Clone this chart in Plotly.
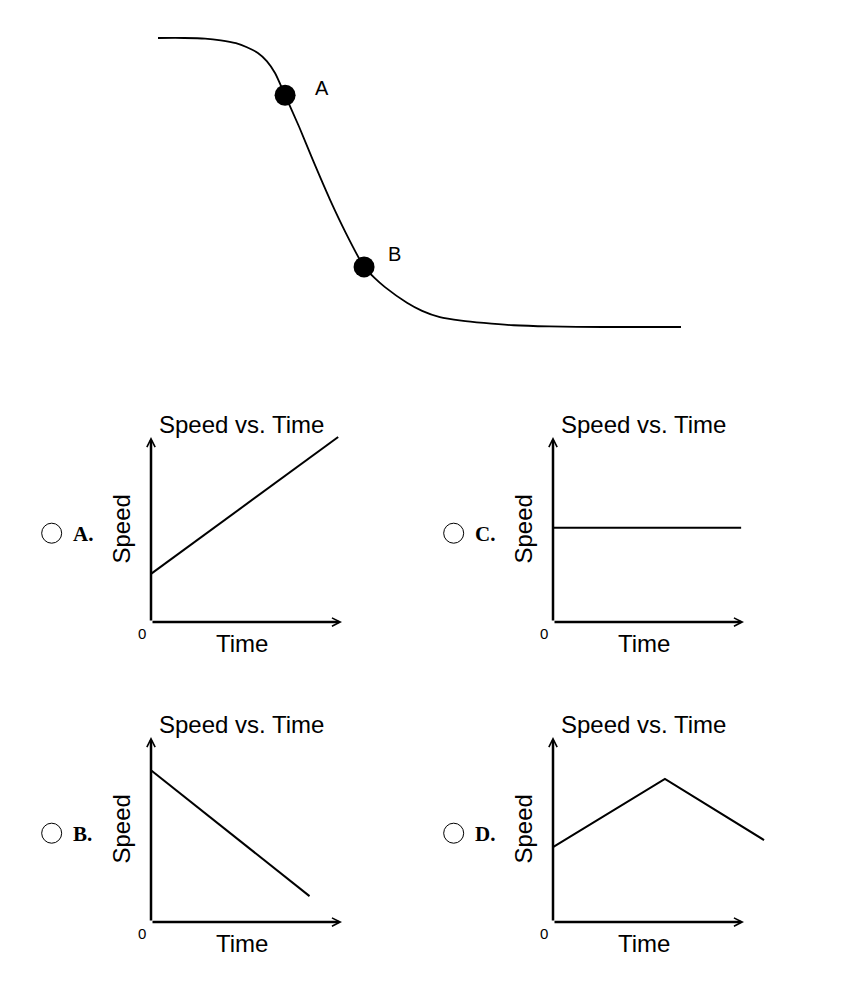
import plotly.graph_objects as go

W, H = 857, 996
FONT = "Liberation Sans"
SERIF = "Liberation Serif"

# ---- Track profile (horizontal distance, height) ----
track_x = [0.0, 0.5, 0.9, 1.2, 1.49, 1.7, 1.91, 2.08, 2.24, 2.43, 2.70, 2.96,
           3.29, 3.59, 3.94, 4.14, 4.34, 4.76, 5.05, 5.39, 5.8, 6.23, 6.8,
           7.48, 8.5, 10.0]
track_y = [5.0, 5.0, 4.99, 4.96, 4.91, 4.84, 4.74, 4.6, 4.39, 4.01, 3.46, 2.89,
           2.20, 1.63, 1.04, 0.85, 0.69, 0.42, 0.28, 0.17, 0.11, 0.07, 0.03,
           0.01, 0.0, 0.0]
point_labels = ["A", "B"]
point_x = [2.43, 3.94]
point_y = [4.01, 1.04]

# ---- Answer choices: speed vs. time ----
choice_letters = ["A.", "C.", "B.", "D."]
time_a, speed_a = [0, 9.8], [2.6, 10.0]
time_c, speed_c = [0, 9.85], [5.1, 5.1]
time_b, speed_b = [0, 8.3], [8.2, 1.4]
time_d, speed_d = [0, 5.86, 11.05], [4.05, 7.73, 4.43]
choice_times = [time_a, time_c, time_b, time_d]
choice_speeds = [speed_a, speed_c, speed_b, speed_d]
AXIS_LEN = 10  # length of drawn time / speed axes in data units

# ---- Layout helpers (pixel placement of subplots) ----
def xdom(p0, p1):
    return [p0 / W, p1 / W]

def ydom(p_bottom, p_top):
    return [1 - p_bottom / H, 1 - p_top / H]

fig = go.Figure()
layout = dict(
    width=W, height=H, margin=dict(l=0, r=0, t=0, b=0),
    paper_bgcolor="white", plot_bgcolor="white", showlegend=False,
)

# Track subplot: x origin at 158 px, 52.3 px/unit; y baseline at 327 px, 57.8 px/unit
TX0, TSX, TY0, TSY = 158, 52.3, 327, 57.8
txr, tyr = [-0.3, 10.3], [-0.3, 5.3]
layout["xaxis"] = dict(domain=xdom(TX0 + txr[0] * TSX, TX0 + txr[1] * TSX),
                       range=txr, visible=False, fixedrange=True)
layout["yaxis"] = dict(domain=ydom(TY0 - tyr[0] * TSY, TY0 - tyr[1] * TSY),
                       range=tyr, visible=False, fixedrange=True)

fig.add_trace(go.Scatter(x=track_x, y=track_y, mode="lines",
                         line=dict(color="black", width=1.8, shape="spline", smoothing=0.6),
                         xaxis="x", yaxis="y", hoverinfo="skip"))
fig.add_trace(go.Scatter(x=point_x, y=point_y, mode="markers",
                         marker=dict(color="black", size=21),
                         xaxis="x", yaxis="y", hoverinfo="skip"))

annotations = []
shapes = []
label_shift = {"A": (28, 7), "B": (22, 13)}
for lab, px, py in zip(point_labels, point_x, point_y):
    dx, dy = label_shift[lab]
    annotations.append(dict(x=px, y=py, xref="x", yref="y", text=lab, showarrow=False,
                            xanchor="left", yanchor="middle", xshift=dx, yshift=dy,
                            font=dict(family=FONT, size=20, color="black")))

# Small multiples: origins in pixels, shared scale in px per unit
origins = [(151, 622), (553, 622), (151, 922), (553, 922)]
SX, SY = 19.1, 18.5
pxr, pyr = [-0.4, 11.6], [-0.4, 10.6]


def to_paper(ox, oy, u, v):
    """Panel-relative units -> paper coordinates."""
    return (ox + u * SX) / W, 1 - (oy - v * SY) / H


for i, ((ox, oy), letter, tt, ss) in enumerate(zip(origins, choice_letters,
                                                   choice_times, choice_speeds)):
    k = i + 2
    xa, ya = f"x{k}", f"y{k}"
    layout[f"xaxis{k}"] = dict(domain=xdom(ox + pxr[0] * SX, ox + pxr[1] * SX),
                               range=pxr, visible=False, fixedrange=True)
    layout[f"yaxis{k}"] = dict(domain=ydom(oy - pyr[0] * SY, oy - pyr[1] * SY),
                               range=pyr, visible=False, fixedrange=True)

    fig.add_trace(go.Scatter(x=tt, y=ss, mode="lines",
                             line=dict(color="black", width=2),
                             xaxis=xa, yaxis=ya, hoverinfo="skip"))

    # time and speed axes with open arrowheads
    for tip in [(AXIS_LEN, 0), (0, AXIS_LEN)]:
        annotations.append(dict(x=tip[0], y=tip[1], ax=0, ay=0, xref=xa, yref=ya,
                                axref=xa, ayref=ya, text="", showarrow=True,
                                arrowhead=5, arrowsize=0.65, arrowwidth=2.5,
                                arrowcolor="black"))

    def label(u, v, text, size, family=FONT, xanchor="center", **kw):
        px, py = to_paper(ox, oy, u, v)
        annotations.append(dict(x=px, y=py, xref="paper", yref="paper", text=text,
                                showarrow=False, xanchor=xanchor, yanchor="middle",
                                font=dict(family=family, size=size, color="black"), **kw))

    label(4.75, 10.65, "Speed vs. Time", 24)
    label(4.75, -1.15, "Time", 24)
    label(-1.57, 5.0, "Speed", 24, textangle=-90)
    label(-0.47, -0.6, "0", 15)
    label(-4.2, 4.75, f"<b>{letter}</b>", 21, family=SERIF, xanchor="left")

    cx, cy = to_paper(ox, oy, -5.2, 4.8)
    shapes.append(dict(type="circle", xref="paper", yref="paper",
                       xsizemode="pixel", ysizemode="pixel",
                       xanchor=cx, yanchor=cy, x0=-10, x1=10, y0=-10, y1=10,
                       line=dict(color="black", width=1)))

layout["annotations"] = annotations
layout["shapes"] = shapes
fig.update_layout(**layout)
fig.write_html("out.html")
